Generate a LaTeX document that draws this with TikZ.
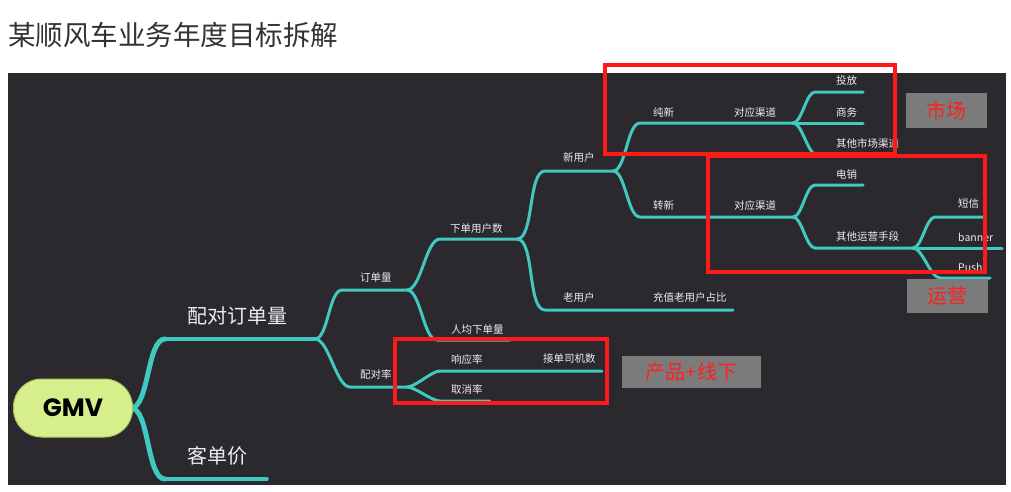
\documentclass[tikz,border=0pt]{standalone}
\usepackage{fontspec}
\setmainfont{Noto Sans CJK SC}
\newfontfamily\gmvfont{Poppins}
\definecolor{bgdark}{HTML}{2B282E}
\definecolor{teal}{HTML}{3FC9BF}
\definecolor{lbl}{HTML}{EDEDED}
\definecolor{gmvfill}{HTML}{D6EF8C}
\definecolor{gmvedge}{HTML}{A8CC5C}
\definecolor{boxred}{HTML}{FF1A1A}
\definecolor{tagred}{HTML}{FF2020}
\definecolor{taggray}{HTML}{7B7B7B}
\definecolor{titlegray}{HTML}{333333}
\tikzset{
  branch/.style={draw=teal,line width=3pt,line cap=round},
  mainbranch/.style={draw=teal,line width=5pt,line cap=round},
  lvlone/.style={draw=teal,line width=3.4pt,line cap=round},
  crv/.style={out=0,in=180,looseness=0.6},
  smalltext/.style={anchor=west,inner sep=0pt,text=lbl,font=\fontsize{10.5}{12}\selectfont},
  bigtext/.style={anchor=west,inner sep=0pt,text=lbl,font=\fontsize{20}{24}\selectfont},
  redbox/.style={draw=boxred,line width=3.2pt},
  tagbox/.style={fill=taggray,text=tagred,inner sep=0pt,font=\fontsize{20}{24}\selectfont},
}
\begin{document}
\begin{tikzpicture}[x=1pt,y=-1pt]
\useasboundingbox (0,0) rectangle (1011,491);
\fill[white] (0,0) rectangle (1011,491);
\fill[bgdark] (8,73) rectangle (1006,485);
\node[anchor=west,inner sep=0pt,text=titlegray,font=\fontsize{27.5}{32}\selectfont] (title) at (8,35) {某顺风车业务年度目标拆解};

% coordinates
\coordinate (gm) at (131,408);
\coordinate (pd1) at (165,339); \coordinate (pd2) at (315,339);
\coordinate (kd1) at (165,479); \coordinate (kd2) at (267,479);
\coordinate (dd1) at (342,290); \coordinate (dd2) at (407,290);
\coordinate (pr1) at (350,387); \coordinate (pr2) at (407,387);
\coordinate (xu1) at (440,239); \coordinate (xu2) at (517,239);
\coordinate (rj1) at (437,340); \coordinate (rj2) at (510,340);
\coordinate (nu1) at (545,171); \coordinate (nu2) at (613,171);
\coordinate (ou1) at (545,310); \coordinate (ou2) at (733,310);
\coordinate (cx1) at (640,123); \coordinate (cx2) at (793,123);
\coordinate (zx1) at (640,217); \coordinate (zx2) at (793,217);
\coordinate (tf1) at (815,92);  \coordinate (tf2) at (863,92);
\coordinate (sw2) at (863,123);
\coordinate (qt1) at (817,155); \coordinate (qt2) at (863,155);
\coordinate (ds1) at (815,185); \coordinate (ds2) at (863,185);
\coordinate (qy1) at (815,248); \coordinate (qy2) at (913,248);
\coordinate (dx1) at (935,217); \coordinate (dx2) at (983,217);
\coordinate (bn2) at (1002,248);
\coordinate (ps1) at (940,278); \coordinate (ps2) at (990,278);
\coordinate (xy1) at (440,371); \coordinate (xy2) at (602,371);
\coordinate (qx1) at (440,401); \coordinate (qx2) at (490,401);

% branches
\draw[mainbranch] (gm) to[crv] (pd1);
\draw[mainbranch] (gm) to[crv] (kd1);
\draw[lvlone] (pd1) -- (pd2);
\draw[lvlone] (kd1) -- (kd2);
\draw[branch] (pd2) to[crv] (dd1) -- (dd2);
\draw[branch] (pd2) to[crv] (pr1) -- (pr2);
\draw[branch] (dd2) to[crv] (xu1) -- (xu2);
\draw[branch] (dd2) to[crv] (rj1) -- (rj2);
\draw[branch] (xu2) to[crv] (nu1) -- (nu2);
\draw[branch] (xu2) to[crv] (ou1) -- (ou2);
\draw[branch] (nu2) to[crv] (cx1) -- (cx2);
\draw[branch] (nu2) to[crv] (zx1) -- (zx2);
\draw[branch] (cx2) to[crv] (tf1) -- (tf2);
\draw[branch] (cx2) -- (sw2);
\draw[branch] (cx2) to[crv] (qt1) -- (qt2);
\draw[branch] (zx2) to[crv] (ds1) -- (ds2);
\draw[branch] (zx2) to[crv] (qy1) -- (qy2);
\draw[branch] (qy2) to[crv] (dx1) -- (dx2);
\draw[branch] (qy2) -- (bn2);
\draw[branch] (qy2) to[crv] (ps1) -- (ps2);
\draw[branch] (pr2) to[crv] (xy1) -- (xy2);
\draw[branch] (pr2) to[crv] (qx1) -- (qx2);

% GMV node
\node[draw=gmvedge,line width=1pt,fill=gmvfill,rounded corners=28pt,minimum width=119pt,minimum height=58pt,inner sep=0pt,font=\gmvfont\bfseries\fontsize{25}{30}\selectfont] (gmv) at (73,408) {GMV};

% labels
\node[bigtext] (t1) at (187,316) {配对订单量};
\node[bigtext] (t2) at (187,456) {客单价};
\node[smalltext] (t3) at (360,278) {订单量};
\node[smalltext] (t4) at (360,374) {配对率};
\node[smalltext] (t5) at (450,229) {下单用户数};
\node[smalltext] (t6) at (451,330) {人均下单量};
\node[smalltext] (t7) at (563,158) {新用户};
\node[smalltext] (t8) at (563,298) {老用户};
\node[smalltext] (t9) at (653,298) {充值老用户占比};
\node[smalltext] (t10) at (653,112) {纯新};
\node[smalltext] (t11) at (734,112) {对应渠道};
\node[smalltext] (t12) at (653,205) {转新};
\node[smalltext] (t13) at (734,205) {对应渠道};
\node[smalltext] (t14) at (836,81) {投放};
\node[smalltext] (t15) at (836,112) {商务};
\node[smalltext] (t16) at (836,143) {其他市场渠道};
\node[smalltext] (t17) at (836,174) {电销};
\node[smalltext] (t18) at (836,236) {其他运营手段};
\node[smalltext] (t19) at (958,204) {短信};
\node[smalltext] (t20) at (958,237) {banner};
\node[smalltext] (t21) at (958,267) {Push};
\node[smalltext] (t22) at (451,359) {响应率};
\node[smalltext] (t23) at (543,359) {接单司机数};
\node[smalltext] (t24) at (451,389) {取消率};

% red frames
\draw[redbox] (605,65) rectangle (895,154);
\draw[redbox] (708,156) rectangle (985,272);
\draw[redbox] (395,339) rectangle (607,403);

% tags
\node[tagbox,minimum width=81pt,minimum height=35pt] (tag1) at (946.5,110.5) {市场};
\node[tagbox,minimum width=81pt,minimum height=34pt] (tag2) at (947.5,296) {运营};
\node[tagbox,minimum width=139pt,minimum height=32pt] (tag3) at (691.5,372) {产品+线下};
\end{tikzpicture}
\end{document}
